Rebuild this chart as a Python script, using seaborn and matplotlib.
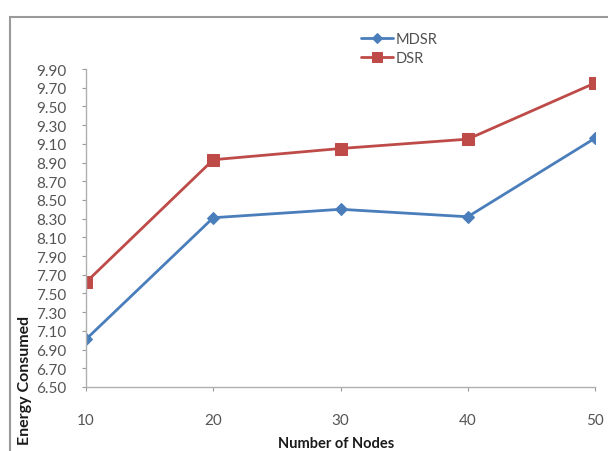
import pandas as pd
import matplotlib
matplotlib.use('Agg')
import matplotlib.pyplot as plt
import matplotlib.patches as patches
import seaborn as sns

# values
nodes = [10, 20, 30, 40, 50]
mdsr = [7.01, 8.31, 8.40, 8.32, 9.16]
dsr = [7.62, 8.93, 9.05, 9.15, 9.75]
y_ticks = [6.50, 6.70, 6.90, 7.10, 7.30, 7.50, 7.70, 7.90, 8.10, 8.30,
           8.50, 8.70, 8.90, 9.10, 9.30, 9.50, 9.70, 9.90]

df = pd.DataFrame({
    'nodes': nodes * 2,
    'energy': mdsr + dsr,
    'protocol': ['MDSR'] * len(nodes) + ['DSR'] * len(nodes),
})

sns.set_style('white')
plt.rcParams['font.family'] = ['Lato', 'DejaVu Sans']

fig = plt.figure(figsize=(6.08, 4.52), dpi=100)
ax = fig.add_axes([86 / 608, 1 - 388 / 452, (595 - 86) / 608, (388 - 70) / 452])

sns.lineplot(data=df, x='nodes', y='energy', hue='protocol', style='protocol',
             markers={'MDSR': 'D', 'DSR': 's'}, dashes=False,
             palette={'MDSR': '#4A7EBB', 'DSR': '#BE4B48'},
             linewidth=2, ax=ax)
for line in ax.lines:
    if line.get_marker() == 's':
        line.set_markersize(9)
    else:
        line.set_markersize(6)
    line.set_markeredgecolor(line.get_color())

handles, labels = ax.get_legend_handles_labels()
ax.get_legend().remove()
for h in handles:
    h.set_markeredgecolor(h.get_color())
    h.set_markersize(5 if h.get_marker() == 'D' else 7)
fig.legend(handles, labels, loc='upper left', bbox_to_anchor=(348 / 608, 1 - 20 / 452),
           frameon=False, fontsize=10.5, handlelength=2.2, handletextpad=0.15,
           labelspacing=0.35, labelcolor='#505050')

ax.set_xlim(10, 50)
ax.set_ylim(6.5, 9.9)
ax.set_xticks(nodes)
ax.set_xticklabels([str(n) for n in nodes])
ax.set_yticks(y_ticks)
ax.set_yticklabels(['%.2f' % v for v in y_ticks])
ax.tick_params(axis='both', colors='#9a9a9a', labelcolor='#555555', labelsize=11,
               direction='out', length=3, width=0.8, left=True, bottom=True)
ax.tick_params(axis='x', pad=16)
ax.tick_params(axis='y', pad=11)

for side in ['top', 'right']:
    ax.spines[side].set_visible(False)
for side in ['left', 'bottom']:
    ax.spines[side].set_color('#b0b0b0')
    ax.spines[side].set_linewidth(1)

ax.set_xlabel('')
ax.set_ylabel('')
fig.text(336 / 608, 1 - 444 / 452, 'Number of Nodes', ha='center', va='center',
         fontsize=10.5, fontweight='bold', color='#1a1a1a')
fig.text(25 / 608, 1 - 380 / 452, 'Energy Consumed', ha='center', va='center',
         rotation=90, fontsize=11.5, fontweight='bold', color='#1a1a1a')

# outer chart border
fig.patches.append(patches.Rectangle((10 / 608, -0.02), 1.0, 1 - 18 / 452 + 0.02,
                                     transform=fig.transFigure, fill=False,
                                     edgecolor='#9a9a9a', linewidth=1.5))

fig.savefig('out.png', dpi=100)
